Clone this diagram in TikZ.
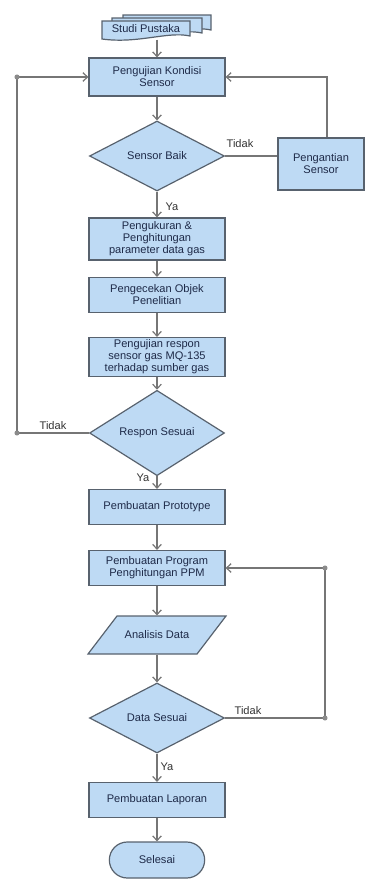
\documentclass[tikz,border=0pt]{standalone}
\usepackage{fontspec}
\setmainfont{Liberation Sans}
\usetikzlibrary{shapes.geometric,shapes.misc,arrows.meta}

\definecolor{boxfill}{RGB}{190,218,244}
\definecolor{boxline}{RGB}{88,98,110}
\definecolor{wire}{RGB}{118,118,118}
\definecolor{boxtext}{RGB}{30,42,72}

\tikzset{every picture/.style={line width=0.75pt}}
\tikzset{
  flowbox/.style={draw=boxline, fill=boxfill, line width=0.9pt, text=boxtext,
                  align=center, font=\fontsize{8.3}{9}\selectfont, inner sep=1pt},
  processbox/.style={flowbox, rectangle, minimum width=102pt},
  decision/.style={flowbox, diamond, minimum width=101.25pt, minimum height=52.5pt, inner sep=0pt},
  terminal/.style={flowbox, rounded rectangle, minimum width=73.5pt, minimum height=27pt},
  docpage/.style={draw=boxline, fill=boxfill, line width=0.9pt},
  flowline/.style={draw=wire, line width=0.9pt, -{Straight Barb[length=3.5pt,width=6.5pt]}},
  plainline/.style={draw=wire, line width=0.9pt},
  answer/.style={font=\fontsize{8.3}{9}\selectfont, text=black!80, inner sep=0.75pt},
  joint/.style={circle, fill=wire!85, inner sep=0pt, minimum size=3.8pt},
}

\begin{document}
\begin{tikzpicture}[x=0.75pt, y=0.75pt, yscale=-1,xscale=1]

    \useasboundingbox (0,0) rectangle (366,879);

    % Studi Pustaka (stacked documents)
    \draw [docpage] (123,15) -- (211,15) -- (211,30)
          .. controls (190,25) and (160,38) .. (123,33) -- cycle;
    \draw [docpage] (112,18) -- (202,18) -- (202,33)
          .. controls (180,28) and (150,41) .. (112,36) -- cycle;
    \draw [docpage] (102,21) -- (190,21) -- (190,36)
          .. controls (168,31) and (138,44) .. (102,39) -- cycle;
    \node [flowbox, draw=none, fill=none, minimum width=66pt, minimum height=15pt]
          (studi) at (146,29) {Studi Pustaka};

    % Process and decision blocks
    \node [processbox, minimum height=28.5pt]  (kondisi) at (157, 77) {Pengujian Kondisi\\Sensor};
    \node [decision]                           (sbaik)   at (157,156) {Sensor Baik};
    \node [processbox, minimum width=64.5pt, minimum height=39pt]
                                               (ganti)   at (321,164) {Pengantian\\Sensor};
    \node [processbox, minimum height=31.5pt]  (ukur)    at (157,239) {Pengukuran \&\\Penghitungan\\parameter data gas};
    \node [processbox, minimum height=26.25pt] (cek)     at (157,295) {Pengecekan Objek\\Penelitian};
    \node [processbox, minimum height=29.25pt] (uji)     at (157,357) {Pengujian respon\\sensor gas MQ-135\\terhadap sumber gas};
    \node [decision, minimum height=51.75pt]   (rsesuai) at (157,433) {Respon Sesuai};
    \node [processbox, minimum height=26.25pt] (proto)   at (157,507) {Pembuatan Prototype};
    \node [processbox, minimum height=26.25pt] (program) at (157,568) {Pembuatan Program\\Penghitungan PPM};

    % Analisis Data (parallelogram)
    \draw [docpage] (117,616) -- (226,616) -- (197,654) -- (88,654) -- cycle;
    \node [flowbox, draw=none, fill=none, minimum width=81.75pt, minimum height=28.5pt]
          (analisis) at (157,635) {Analisis Data};

    \node [decision]                           (dsesuai) at (157,718) {Data Sesuai};
    \node [processbox, minimum height=26.25pt] (laporan) at (157,800) {Pembuatan Laporan};
    \node [terminal]                           (selesai) at (157,860) {Selesai};

    % Loop corners
    \coordinate (jtl) at ( 17, 77);
    \coordinate (jbl) at ( 17,433);
    \coordinate (jtr) at (325,568);
    \coordinate (jbr) at (325,718);

    % Line Studi - Kondisi
    \draw [flowline] (studi.south -| kondisi.north) -- (kondisi.north);

    % Line Kondisi - Sensor Baik
    \draw [flowline] (kondisi.south) -- (sbaik.north);

    % Line Sensor Baik - Pengantian (Tidak)
    \draw [plainline] (sbaik.east) -- (sbaik.east -| ganti.west);
    \draw (240,144) node [answer] {Tidak};

    % Line Pengantian - Kondisi
    \draw [flowline] ([xshift=4.5pt]ganti.north) |- (kondisi.east);

    % Line Sensor Baik - Pengukuran (Ya)
    \draw [flowline] (sbaik.south) -- (ukur.north);
    \draw (172,207) node [answer] {Ya};

    % Main column
    \draw [flowline] (ukur.south) -- (cek.north);
    \draw [flowline] (cek.south) -- (uji.north);
    \draw [flowline] (uji.south) -- (rsesuai.north);

    % Line Respon Sesuai - Kondisi (Tidak)
    \draw [flowline] (rsesuai.west) -- (jbl) -- (jtl) -- (kondisi.west);
    \draw (53,426) node [answer] {Tidak};

    % Line Respon Sesuai - Prototype (Ya)
    \draw [flowline] (rsesuai.south) -- (proto.north);
    \draw (143,478) node [answer] {Ya};

    \draw [flowline] (proto.south) -- (program.north);
    \draw [flowline] (program.south) -- (analisis.north);
    \draw [flowline] (analisis.south) -- (dsesuai.north);

    % Line Data Sesuai - Program (Tidak)
    \draw [flowline] (dsesuai.east) -- (jbr) -- (jtr) -- (program.east);
    \draw (248,711) node [answer] {Tidak};

    % Line Data Sesuai - Laporan (Ya)
    \draw [flowline] (dsesuai.south) -- (laporan.north);
    \draw (167,767) node [answer] {Ya};

    \draw [flowline] (laporan.south) -- (selesai.north);

    % Joint dots
    \foreach \j in {jtl,jbl,jtr,jbr}
        \node [joint] at (\j) {};

\end{tikzpicture}
\end{document}
